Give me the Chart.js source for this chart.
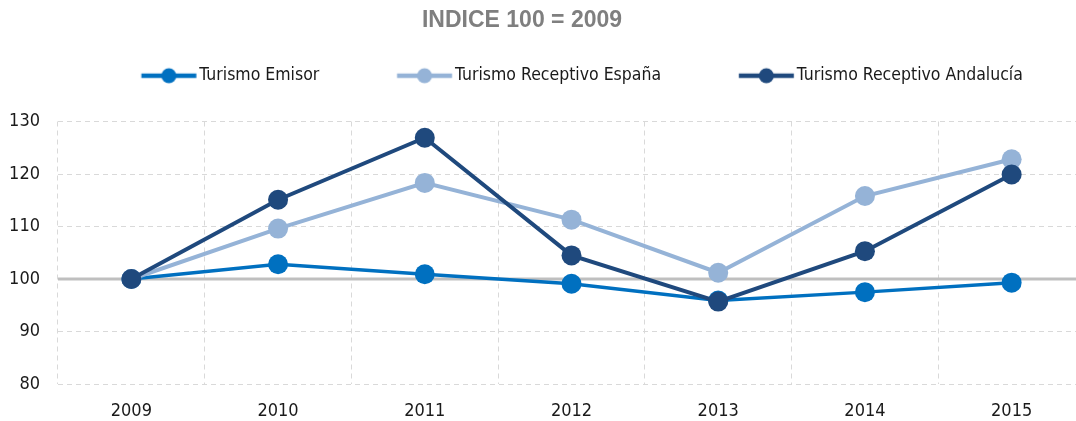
<!DOCTYPE html>
<html>
<head>
<meta charset="utf-8">
<script src="https://cdn.jsdelivr.net/npm/chart.js@4.4.1/dist/chart.umd.min.js"></script>
<style>
  html, body { margin: 0; padding: 0; background: #ffffff; overflow: hidden; }
  #wrap { width: 1076px; height: 421px; overflow: hidden; position: relative; }
  canvas { display: block; }
</style>
</head>
<body>
<div id="wrap"><canvas id="c" width="1090" height="421"></canvas></div>
<script>
// ---- data ----
const TITLE = 'INDICE 100 = 2009';
const YEARS = ['2009', '2010', '2011', '2012', '2013', '2014', '2015'];
const SERIES_NAMES = ['Turismo Emisor', 'Turismo Receptivo España', 'Turismo Receptivo Andalucía'];
const EMISOR = [100, 102.8, 100.9, 99.1, 95.9, 97.5, 99.3];
const RECEPTIVO_ESPANA = [100, 109.6, 118.3, 111.3, 101.2, 115.8, 122.8];
const RECEPTIVO_ANDALUCIA = [100, 115.1, 126.9, 104.5, 95.7, 105.3, 119.9];
const BASE = 100;
const Y_MIN = 80, Y_MAX = 130, Y_STEP = 10;

// ---- styles ----
const COLORS = ['#0070C0', '#95B3D7', '#1F497D'];
const NARROW = '"DejaVu Sans Condensed", "Liberation Sans Narrow", sans-serif';
const TEXT_COLOR = '#1a1a1a';
const GRID_COLOR = '#d9d9d9';
const LEG_FONT = 17.5;
const LEG_BOX = 119;
const LEG_PAD = 8;
const LINE_LEN = 55, LINE_GAP = 3;

function legendImage(color) {
  const lineEnd = LEG_BOX + LEG_FONT / 2 - LINE_GAP;
  const lineStart = lineEnd - LINE_LEN;
  const c = LEG_BOX / 2;
  const half = Math.max(Math.abs(lineEnd - c), Math.abs(lineStart - c)) + 2;
  const cv = document.createElement('canvas');
  cv.width = Math.ceil(half * 2);
  cv.height = 20;
  const g = cv.getContext('2d');
  const off = c - cv.width / 2;
  const a = lineStart - off, b = lineEnd - off;
  g.strokeStyle = color; g.lineWidth = 4.5;
  g.beginPath(); g.moveTo(a, 10); g.lineTo(b, 10); g.stroke();
  g.fillStyle = color;
  g.beginPath(); g.arc((a + b) / 2, 10, 7.5, 0, Math.PI * 2); g.fill();
  return cv;
}
const legendImgs = COLORS.map(legendImage);

const baseLinePlugin = {
  id: 'baseLine',
  beforeDatasetsDraw(chart) {
    const {ctx, chartArea, scales} = chart;
    const y = scales.y.getPixelForValue(BASE);
    ctx.save();
    ctx.strokeStyle = '#bfbfbf';
    ctx.lineWidth = 3;
    ctx.beginPath();
    ctx.moveTo(chartArea.left, y);
    ctx.lineTo(chartArea.right, y);
    ctx.stroke();
    ctx.restore();
  }
};

const titlePlugin = {
  id: 'titleText',
  afterDraw(chart) {
    const ctx = chart.ctx;
    ctx.save();
    ctx.font = 'bold 23px "Liberation Sans", Arial, sans-serif';
    ctx.fillStyle = '#7f7f7f';
    ctx.textAlign = 'center';
    ctx.textBaseline = 'middle';
    ctx.fillText(TITLE, 522, 21);
    ctx.restore();
  }
};

function ds(label, data, color, order, width) {
  return {
    label, data,
    borderColor: color, backgroundColor: color,
    pointBackgroundColor: color, pointBorderColor: color,
    borderWidth: width, pointRadius: 10, pointHoverRadius: 10, pointBorderWidth: 0,
    tension: 0, order, clip: false
  };
}

new Chart(document.getElementById('c'), {
  type: 'line',
  data: {
    labels: YEARS,
    datasets: [
      ds(SERIES_NAMES[0], EMISOR, COLORS[0], 2, 3.5),
      ds(SERIES_NAMES[1], RECEPTIVO_ESPANA, COLORS[1], 1, 4),
      ds(SERIES_NAMES[2], RECEPTIVO_ANDALUCIA, COLORS[2], 0, 4)
    ]
  },
  plugins: [baseLinePlugin, titlePlugin],
  options: {
    responsive: false,
    animation: false,
    devicePixelRatio: 1,
    layout: { autoPadding: false, padding: { left: 9.5, right: 5, top: 59, bottom: 0 } },
    plugins: {
      title: { display: false },
      subtitle: {
        display: true, text: '', position: 'top', weight: 500,
        font: { size: 10, lineHeight: 1 }, padding: { top: 0, bottom: 17 }
      },
      tooltip: { enabled: false },
      legend: {
        display: true, position: 'top', align: 'center', fullSize: true,
        labels: {
          usePointStyle: true,
          pointStyleWidth: LEG_BOX,
          padding: LEG_PAD,
          color: TEXT_COLOR,
          font: { family: NARROW, size: LEG_FONT },
          sort: (a, b) => a.datasetIndex - b.datasetIndex,
          generateLabels(chart) {
            const items = Chart.defaults.plugins.legend.labels.generateLabels(chart);
            items.forEach(it => { it.pointStyle = legendImgs[it.datasetIndex]; });
            return items;
          }
        }
      }
    },
    scales: {
      x: {
        type: 'category',
        offset: true,
        grid: { offset: true, color: GRID_COLOR, lineWidth: 1, drawTicks: false },
        border: { display: false, dash: [5, 4] },
        ticks: { padding: 18, color: TEXT_COLOR, font: { family: NARROW, size: 18, lineHeight: 1 }, maxRotation: 0 },
        afterFit(scale) { scale.height = 37; }
      },
      y: {
        min: Y_MIN, max: Y_MAX,
        grid: {
          color: (c) => (c.tick && c.tick.value === BASE) ? 'rgba(0,0,0,0)' : GRID_COLOR,
          lineWidth: 1, drawTicks: false
        },
        border: { display: false, dash: [5, 4] },
        ticks: { stepSize: Y_STEP, padding: 18, color: TEXT_COLOR, font: { family: NARROW, size: 18, lineHeight: 1 } },
        afterFit(scale) { scale.width = 48.5; }
      }
    }
  }
});
</script>
</body>
</html>
